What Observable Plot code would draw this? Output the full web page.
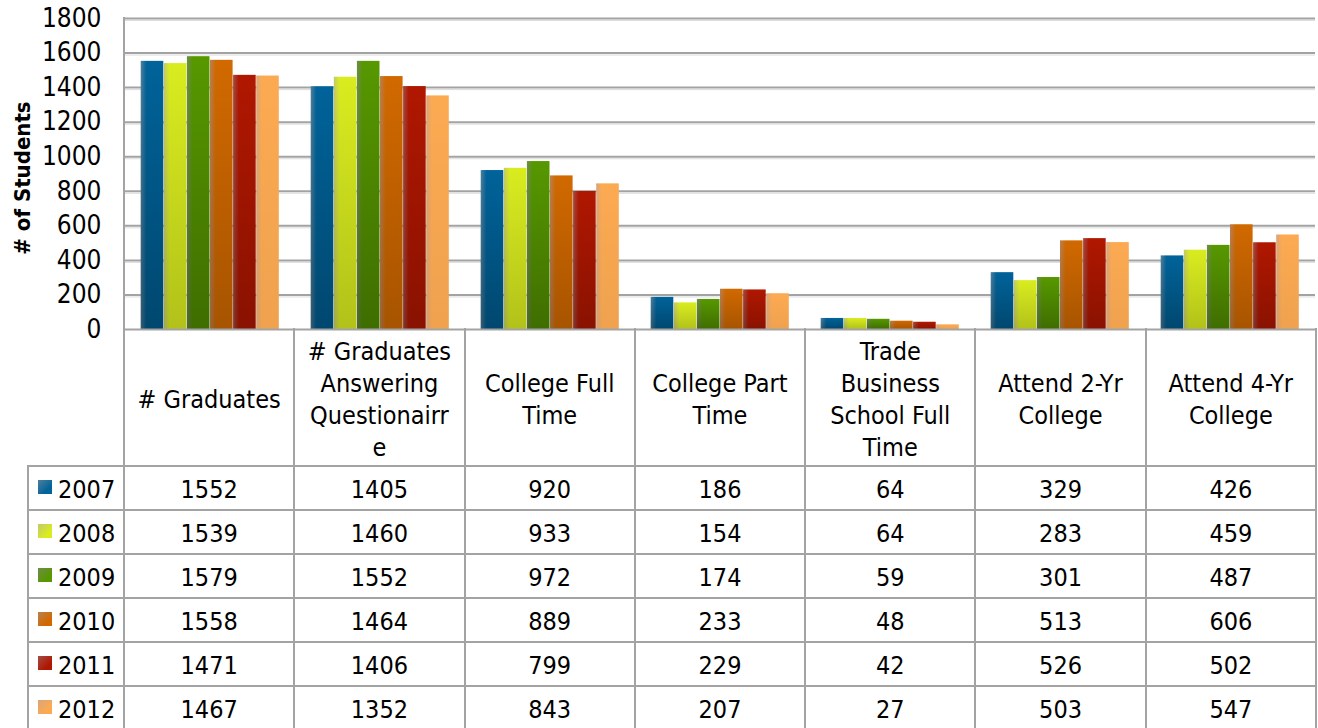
<!DOCTYPE html>
<html><head><meta charset="utf-8">
<script src="https://cdn.jsdelivr.net/npm/d3@7"></script>
<script src="https://cdn.jsdelivr.net/npm/@observablehq/plot@0.6"></script>
<style>
html,body{margin:0;padding:0;background:#fff;}
#wrap{position:relative;width:1318px;height:728px;overflow:hidden;font-family:"DejaVu Sans Condensed","DejaVu Sans",sans-serif;}
#chart{position:absolute;left:0;top:0;}
.cell{position:absolute;display:flex;align-items:center;justify-content:center;text-align:center;font-size:25px;line-height:32px;color:#000;box-sizing:border-box;white-space:nowrap;}
.num{padding-top:4px;}
.leg{justify-content:flex-start;padding-left:10px;padding-top:4px;}
.sw{display:inline-block;width:14px;height:14px;margin-right:6px;margin-top:-6px;}
.hl{position:absolute;height:2px;background:#a3a3a3;}
.vl{position:absolute;width:2px;background:#a3a3a3;}
#ylab{position:absolute;left:22px;top:178px;transform:translate(-50%,-50%) rotate(-90deg);font-weight:bold;font-size:22px;white-space:nowrap;color:#000;}
</style></head><body><div id="wrap"><div id="chart"></div></div><script>
// ---- data ----
const categories = ["# Graduates","# Graduates Answering Questionairre","College Full Time","College Part Time","Trade Business School Full Time","Attend 2-Yr College","Attend 4-Yr College"];
const headerLines = [["# Graduates"],["# Graduates","Answering","Questionairr","e"],["College Full","Time"],["College Part","Time"],["Trade","Business","School Full","Time"],["Attend 2-Yr","College"],["Attend 4-Yr","College"]];
const years = ["2007","2008","2009","2010","2011","2012"];
const v2007 = [1552,1405,920,186,64,329,426];
const v2008 = [1539,1460,933,154,64,283,459];
const v2009 = [1579,1552,972,174,59,301,487];
const v2010 = [1558,1464,889,233,48,513,606];
const v2011 = [1471,1406,799,229,42,526,502];
const v2012 = [1467,1352,843,207,27,503,547];
const series = [v2007,v2008,v2009,v2010,v2011,v2012];
const yTicks = [0,200,400,600,800,1000,1200,1400,1600,1800];
const yLabel = "# of Students";
// colours: [left edge, main, bottom shade alpha]
const yearColors = {
  "2007":["#4f7f9c","#00639a",0.28],
  "2008":["#c2c86e","#d9ec1f",0.18],
  "2009":["#6f8c4c","#579800",0.28],
  "2010":["#ba8050","#d16900",0.20],
  "2011":["#a24c48","#b01700",0.22],
  "2012":["#d9a57a","#fcaa52",0.05]
};

const data = categories.flatMap((c,i)=>years.map((y,j)=>({cat:c, year:y, value:series[j][i]})));
const FONT = '"DejaVu Sans Condensed","DejaVu Sans",sans-serif';
const GRID = "#a3a3a3";

const marks = [
  Plot.ruleY(yTicks.filter(d=>d>0), {stroke:"#dcdcdc", strokeWidth:1, dy:2}),
  Plot.ruleY(yTicks.filter(d=>d>0), {stroke:GRID, strokeWidth:2})
];
for (const y of years) {
  const sub = data.filter(d=>d.year===y);
  marks.push(Plot.barY(sub, {fx:"cat", x:"year", y:"value", fill:`url(#g${y})`, insetRight:0.5}));
  marks.push(Plot.barY(sub, {fx:"cat", x:"year", y:"value", fill:`url(#s${y})`, insetRight:0.5}));
}
marks.push(Plot.ruleY([0], {stroke:GRID, strokeWidth:2}));
marks.push(Plot.axisY({ticks:yTicks, tickFormat:d=>String(d), tickSize:0, tickPadding:24, label:null, fontSize:26, fill:"#000"}));

const chart = Plot.plot({
  width:1318, height:330, marginLeft:124, marginRight:2, marginTop:18, marginBottom:1,
  style:{fontFamily:FONT, fontSize:"25px", color:"#000", background:"transparent", overflow:"visible"},
  fx:{domain:categories, padding:0, axis:null, label:null},
  x:{domain:years, paddingInner:0, paddingOuter:0.68, round:false, axis:null},
  y:{domain:[0,1800], axis:null},
  marks
});
// gradient definitions
const NS = "http://www.w3.org/2000/svg";
const defs = document.createElementNS(NS,"defs");
let html = "";
for (const y of years) {
  const [l,m,a] = yearColors[y];
  html += `<linearGradient id="g${y}" x1="0" x2="1" y1="0" y2="0"><stop offset="0" stop-color="${l}"/><stop offset="0.25" stop-color="${m}"/><stop offset="1" stop-color="${m}"/></linearGradient>`;
  html += `<linearGradient id="s${y}" x1="0" x2="0" y1="0" y2="1"><stop offset="0" stop-color="#000" stop-opacity="0"/><stop offset="1" stop-color="#000" stop-opacity="${a}"/></linearGradient>`;
}
defs.innerHTML = html;
chart.insertBefore(defs, chart.firstChild);
document.getElementById("chart").appendChild(chart);

// ---- axis title & data table ----
const wrap = document.getElementById("wrap");
const lab = document.createElement("div");
lab.id = "ylab"; lab.textContent = yLabel; wrap.appendChild(lab);

const colX = d3.range(8).map(i=>124 + i*(1316-124)/7);
const headTop = 329, headBot = 466, rowH = 44, legL = 28;
function add(cls, style, content){
  const e = document.createElement("div");
  e.className = cls;
  Object.assign(e.style, style);
  if (content !== undefined) e.innerHTML = content;
  wrap.appendChild(e);
  return e;
}
// header cells
categories.forEach((c,i)=>{
  add("cell", {left:colX[i]+"px", top:headTop+"px", width:(colX[i+1]-colX[i])+"px", height:(headBot-headTop+4)+"px"},
    '<div>' + headerLines[i].map(s=>`<div>${s}</div>`).join("") + '</div>');
});
// data rows
years.forEach((y,r)=>{
  const top = headBot + r*rowH;
  const [l,m] = yearColors[y];
  add("cell leg", {left:legL+"px", top:top+"px", width:(colX[0]-legL)+"px", height:rowH+"px"},
    `<span class="sw" style="background:linear-gradient(135deg, ${l}, ${m} 70%)"></span><span>${y}</span>`);
  series[r].forEach((v,i)=>{
    add("cell num", {left:colX[i]+"px", top:top+"px", width:(colX[i+1]-colX[i])+"px", height:rowH+"px"}, String(v));
  });
});
// grid lines
for (let r=0; r<=6; r++) add("hl", {left:(legL-1)+"px", top:(headBot+r*rowH-1)+"px", width:(1317-legL)+"px"});
add("vl", {left:(legL-1)+"px", top:(headBot-1)+"px", height:(728-headBot+1)+"px"});
add("vl", {left:(colX[0]-1)+"px", top:"17px", height:(728-17)+"px"});
for (let i=1;i<colX.length;i++) add("vl", {left:(colX[i]-1)+"px", top:(headTop-1)+"px", height:(728-headTop+1)+"px"});
</script></body></html>
